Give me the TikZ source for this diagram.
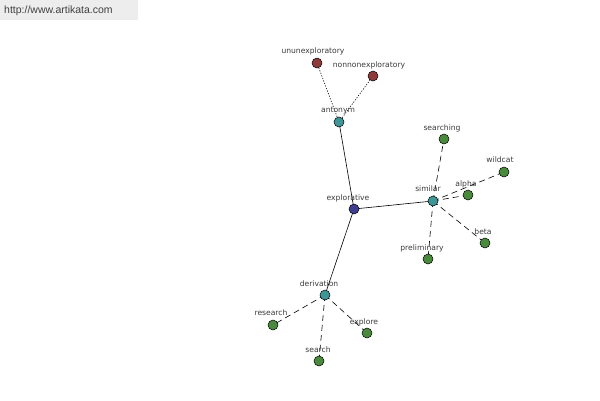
\documentclass[tikz,border=0pt]{standalone}
\usepackage{fontspec}
\setmainfont{Liberation Sans}
\newfontfamily\labfont{DejaVu Sans}
\usetikzlibrary{backgrounds}
\definecolor{cblue}{HTML}{3F3F8F}
\definecolor{cteal}{HTML}{3E9696}
\definecolor{cred}{HTML}{8F3A3A}
\definecolor{cgreen}{HTML}{4A8A3C}
\definecolor{txt}{HTML}{3A3A3A}
\begin{document}
\begin{tikzpicture}[x=1pt,y=-1pt,
  vert/.style={circle,draw=black,line width=0.5pt,minimum size=10pt,inner sep=0pt},
  lab/.style={font=\labfont\fontsize{7.6}{8}\selectfont,text=txt,inner sep=0pt},
  solidedge/.style={draw=black,line width=0.6pt},
  dashedge/.style={draw=black,line width=0.6pt,dash pattern=on 6pt off 4pt},
  dotedge/.style={draw=black,line width=0.6pt,dash pattern=on 1.2pt off 1.5pt}]
\useasboundingbox (0,0) rectangle (600,400);
\begin{scope}[on background layer]
\fill[white] (0,0) rectangle (600,400);
\fill[black!7] (0,0) rectangle (138,20);
\end{scope}
\node[anchor=west,inner sep=0pt,font=\fontsize{10.5}{11}\selectfont,text=black!75] (url) at (4,11) {http://www.artikata.com};
% vertices
\node[vert,fill=cblue] (explorative) at (354,209) {};
\node[vert,fill=cteal] (antonym) at (339,122) {};
\node[vert,fill=cred] (ununex) at (317,63) {};
\node[vert,fill=cred] (nonnon) at (373,76) {};
\node[vert,fill=cteal] (similar) at (433,201) {};
\node[vert,fill=cgreen] (searching) at (444,139) {};
\node[vert,fill=cgreen] (wildcat) at (504,172) {};
\node[vert,fill=cgreen] (alpha) at (468,195) {};
\node[vert,fill=cgreen] (beta) at (485,243) {};
\node[vert,fill=cgreen] (preliminary) at (428,259) {};
\node[vert,fill=cteal] (derivation) at (325,295) {};
\node[vert,fill=cgreen] (research) at (273,325) {};
\node[vert,fill=cgreen] (explore) at (367,333) {};
\node[vert,fill=cgreen] (search) at (319,361) {};
% labels
\node[lab] (l1) at (348,198) {explorative};
\node[lab] (l2) at (338,111) {antonym};
\node[lab] (l3) at (313,51) {ununexploratory};
\node[lab] (l4) at (369,65) {nonnonexploratory};
\node[lab] (l5) at (428,189) {similar};
\node[lab] (l6) at (442,128) {searching};
\node[lab] (l7) at (500,160) {wildcat};
\node[lab] (l8) at (466,184) {alpha};
\node[lab] (l9) at (483,232) {beta};
\node[lab] (l10) at (422,248) {preliminary};
\node[lab] (l11) at (319,284) {derivation};
\node[lab] (l12) at (271,313) {research};
\node[lab] (l13) at (364,322) {explore};
\node[lab] (l14) at (318,350) {search};
\begin{scope}[on background layer]
\draw[solidedge] (explorative.center) -- (antonym.center);
\draw[solidedge] (explorative.center) -- (similar.center);
\draw[solidedge] (explorative.center) -- (derivation.center);
\draw[dotedge] (antonym.center) -- (ununex.center);
\draw[dotedge] (antonym.center) -- (nonnon.center);
\draw[dashedge] (similar.center) -- (searching.center);
\draw[dashedge] (similar.center) -- (wildcat.center);
\draw[dashedge] (similar.center) -- (alpha.center);
\draw[dashedge] (similar.center) -- (beta.center);
\draw[dashedge] (similar.center) -- (preliminary.center);
\draw[dashedge] (derivation.center) -- (research.center);
\draw[dashedge] (derivation.center) -- (explore.center);
\draw[dashedge] (derivation.center) -- (search.center);
\end{scope}
\end{tikzpicture}
\end{document}
